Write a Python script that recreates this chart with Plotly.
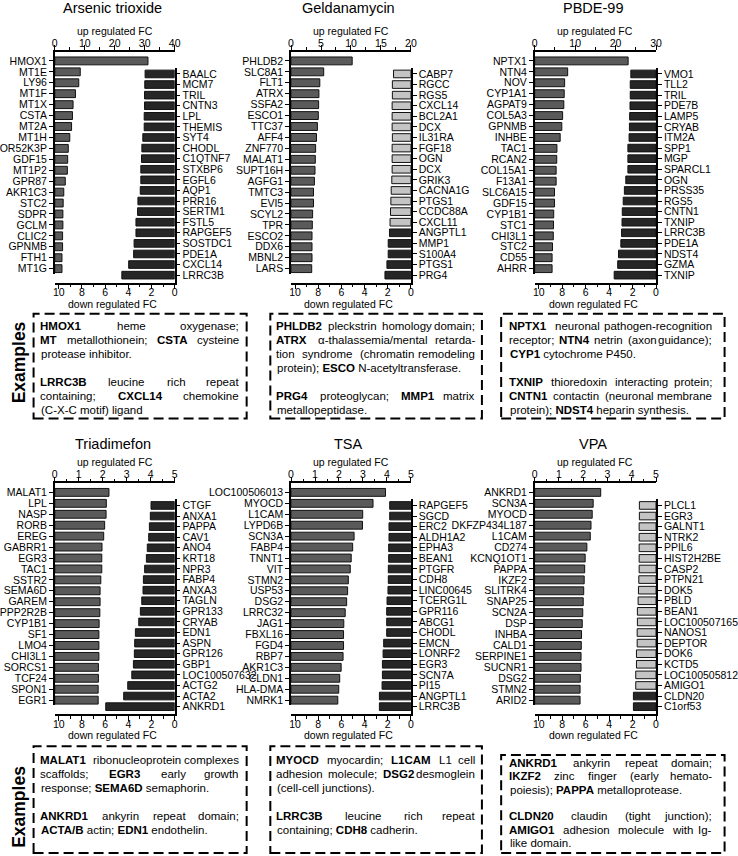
import plotly.graph_objects as go

# ---------------- data ----------------
titles = ["Arsenic trioxide", "Geldanamycin", "PBDE-99", "Triadimefon", "TSA", "VPA"]

arsenic_up_genes = ["HMOX1", "MT1E", "LY96", "MT1F", "MT1X", "CSTA", "MT2A", "MT1H", "OR52K3P", "GDF15",
                    "MT1P2", "GPR87", "AKR1C3", "STC2", "SDPR", "GCLM", "CLIC2", "GPNMB", "FTH1", "MT1G"]
arsenic_up_fc = [31.1, 8.5, 8.0, 6.9, 6.1, 5.9, 5.6, 5.0, 4.5, 4.3, 4.2, 3.5, 3.0, 2.8, 2.7, 2.7, 2.6, 2.6, 2.4, 2.4]
arsenic_down_genes = ["BAALC", "MCM7", "TRIL", "CNTN3", "LPL", "THEMIS", "SYT4", "CHODL", "C1QTNF7", "STXBP6",
                      "EGFL6", "AQP1", "PRR16", "SERTM1", "FSTL5", "RAPGEF5", "SOSTDC1", "PDE1A", "CXCL14", "LRRC3B"]
arsenic_down_fc = [2.55, 2.58, 2.6, 2.6, 2.63, 2.63, 2.75, 2.83, 2.86, 2.92, 2.92, 2.97, 3.17, 3.2, 3.34, 3.34,
                   3.5, 3.54, 3.97, 4.56]

geld_up_genes = ["PHLDB2", "SLC8A1", "FLT1", "ATRX", "SSFA2", "ESCO1", "TTC37", "AFF4", "ZNF770", "MALAT1",
                 "SUPT16H", "AGFG1", "TMTC3", "EVI5", "SCYL2", "TPR", "ESCO2", "DDX6", "MBNL2", "LARS"]
geld_up_fc = [10.2, 5.45, 4.8, 4.65, 4.6, 4.55, 4.4, 4.25, 4.1, 4.05, 4.0, 3.9, 3.75, 3.75, 3.6, 3.55, 3.5, 3.5,
              3.5, 3.45]
geld_down_genes = ["CABP7", "RGCC", "RGS5", "CXCL14", "BCL2A1", "DCX", "IL31RA", "FGF18", "OGN", "DCX",
                   "GRIK3", "CACNA1G", "PTGS1", "CCDC88A", "CXCL11", "ANGPTL1", "MMP1", "S100A4", "PTGS1", "PRG4"]
geld_down_fc = [1.5, 1.6, 1.6, 1.62, 1.62, 1.62, 1.6, 1.62, 1.62, 1.62, 1.65, 1.7, 1.73, 1.76, 1.8, 1.85, 1.96,
                1.96, 2.07, 2.24]

pbde_up_genes = ["NPTX1", "NTN4", "NOV", "CYP1A1", "AGPAT9", "COL5A3", "GPNMB", "INHBE", "TAC1", "RCAN2",
                 "COL15A1", "F13A1", "SLC6A15", "GDF15", "CYP1B1", "STC1", "CHI3L1", "STC2", "CD55", "AHRR"]
pbde_up_fc = [23.1, 8.15, 7.4, 7.3, 7.2, 6.9, 6.7, 6.3, 5.5, 5.45, 5.3, 5.3, 4.9, 4.9, 4.7, 4.65, 4.6, 4.4, 4.3, 4.3]
pbde_down_genes = ["VMO1", "TLL2", "TRIL", "PDE7B", "LAMP5", "CRYAB", "ITM2A", "SPP1", "MGP", "SPARCL1",
                   "OGN", "PRSS35", "RGS5", "CNTN1", "TXNIP", "LRRC3B", "PDE1A", "NDST4", "GZMA", "TXNIP"]
pbde_down_fc = [2.15, 2.2, 2.2, 2.22, 2.25, 2.27, 2.3, 2.4, 2.4, 2.4, 2.58, 2.7, 2.8, 2.88, 2.9, 2.94, 3.0, 3.2,
                3.27, 3.57]

triad_up_genes = ["MALAT1", "LPL", "NASP", "RORB", "EREG", "GABRR1", "EGR3", "TAC1", "SSTR2", "SEMA6D",
                  "GAREM", "PPP2R2B", "CYP1B1", "SF1", "LMO4", "CHI3L1", "SORCS1", "TCF24", "SPON1", "EGR1"]
triad_up_fc = [2.26, 2.15, 2.14, 2.08, 2.04, 1.97, 1.96, 1.96, 1.92, 1.89, 1.89, 1.88, 1.85, 1.84, 1.84, 1.84,
               1.82, 1.82, 1.81, 1.81]
triad_down_genes = ["CTGF", "ANXA1", "PAPPA", "CAV1", "ANO4", "KRT18", "NPR3", "FABP4", "ANXA3", "TAGLN",
                    "GPR133", "CRYAB", "EDN1", "ASPN", "GPR126", "GBP1", "LOC100507632", "ACTG2", "ACTA2", "ANKRD1"]
triad_down_fc = [2.04, 2.1, 2.18, 2.24, 2.36, 2.44, 2.59, 2.7, 2.73, 2.84, 2.96, 3.1, 3.39, 3.45, 3.48, 3.56,
                 3.7, 4.05, 4.4, 5.95]

tsa_up_genes = ["LOC100506013", "MYOCD", "L1CAM", "LYPD6B", "SCN3A", "FABP4", "TNNT1", "VIT", "STMN2", "USP53",
                "DSG2", "LRRC32", "JAG1", "FBXL16", "FGD4", "RBP7", "AKR1C3", "CLDN1", "HLA-DMA", "NMRK1"]
tsa_up_fc = [3.94, 3.42, 2.99, 2.98, 2.63, 2.57, 2.51, 2.47, 2.39, 2.36, 2.32, 2.26, 2.2, 2.19, 2.19, 2.17, 2.09,
             2.03, 1.99, 1.95]
tsa_down_genes = ["RAPGEF5", "SGCD", "ERC2", "ALDH1A2", "EPHA3", "BEAN1", "PTGFR", "CDH8", "LINC00645", "TCERG1L",
                  "GPR116", "ABCG1", "CHODL", "EMCN", "LONRF2", "EGR3", "SCN7A", "PI15", "ANGPTL1", "LRRC3B"]
tsa_down_fc = [1.83, 1.83, 1.89, 1.89, 1.92, 1.92, 1.95, 1.95, 1.98, 2.06, 2.09, 2.09, 2.09, 2.35, 2.4, 2.46,
               2.46, 2.49, 2.72, 2.72]

vpa_up_genes = ["ANKRD1", "SCN3A", "MYOCD", "DKFZP434L187", "L1CAM", "CD274", "KCNQ1OT1", "PAPPA", "IKZF2",
                "SLITRK4", "SNAP25", "SCN2A", "DSP", "INHBA", "CALD1", "SERPINE1", "SUCNR1", "DSG2", "STMN2", "ARID2"]
vpa_up_fc = [2.72, 2.41, 2.37, 2.32, 2.29, 2.15, 2.08, 2.06, 2.04, 2.02, 2.0, 1.98, 1.96, 1.93, 1.92, 1.91, 1.91,
             1.88, 1.87, 1.87]
vpa_down_genes = ["PLCL1", "EGR3", "GALNT1", "NTRK2", "PPIL6", "HIST2H2BE", "CASP2", "PTPN21", "DOK5", "PBLD",
                  "BEAN1", "LOC100507165", "NANOS1", "DEPTOR", "DOK6", "KCTD5", "LOC100505812", "AMIGO1",
                  "CLDN20", "C1orf53"]
vpa_down_fc = [1.42, 1.42, 1.44, 1.44, 1.44, 1.44, 1.44, 1.47, 1.5, 1.53, 1.59, 1.59, 1.61, 1.61, 1.67, 1.67,
               1.73, 1.73, 1.93, 1.93]

up_axis_max = [40, 20, 30, 5, 5, 5]
up_axis_dtick = [10, 5, 10, 1, 1, 1]
down_axis_ticks = [10, 8, 6, 4, 2, 0]

examples = [
    ["<b>HMOX1</b> heme oxygenase;", "<b>MT</b> metallothionein; <b>CSTA</b> cysteine", "protease inhibitor.", "",
     "<b>LRRC3B</b> leucine rich repeat", "containing; <b>CXCL14</b> chemokine", "(C-X-C motif) ligand"],
    ["<b>PHLDB2</b> pleckstrin homology domain;", "<b>ATRX</b> α-thalassemia/mental retarda-",
     "tion syndrome (chromatin remodeling", "protein); <b>ESCO</b> N-acetyltransferase.", "",
     "<b>PRG4</b> proteoglycan; <b>MMP1</b> matrix", "metallopeptidase."],
    ["<b>NPTX1</b> neuronal pathogen-recognition", "receptor; <b>NTN4</b> netrin (axon guidance);",
     "<b>CYP1</b> cytochrome P450.", "", "<b>TXNIP</b> thioredoxin interacting protein;",
     "<b>CNTN1</b> contactin (neuronal membrane", "protein); <b>NDST4</b> heparin synthesis."],
    ["<b>MALAT1</b> ribonucleoprotein complexes", "scaffolds; <b>EGR3</b> early growth",
     "response; <b>SEMA6D</b> semaphorin.", "", "<b>ANKRD1</b> ankyrin repeat domain;",
     "<b>ACTA/B</b> actin; <b>EDN1</b> endothelin."],
    ["<b>MYOCD</b> myocardin; <b>L1CAM</b> L1 cell", "adhesion molecule; <b>DSG2</b> desmoglein",
     "(cell-cell junctions).", "", "<b>LRRC3B</b> leucine rich repeat", "containing; <b>CDH8</b> cadherin."],
    ["<b>ANKRD1</b> ankyrin repeat domain;", "<b>IKZF2</b> zinc finger (early hemato-",
     "poiesis); <b>PAPPA</b> metalloprotease.", "", "<b>CLDN20</b> claudin (tight junction);",
     "<b>AMIGO1</b> adhesion molecule with Ig-", "like domain."],
]
examples_label = "Examples"
up_axis_title = "up regulated FC"
down_axis_title = "down regulated FC"

panels = [
    (arsenic_up_genes, arsenic_up_fc, arsenic_down_genes, arsenic_down_fc),
    (geld_up_genes, geld_up_fc, geld_down_genes, geld_down_fc),
    (pbde_up_genes, pbde_up_fc, pbde_down_genes, pbde_down_fc),
    (triad_up_genes, triad_up_fc, triad_down_genes, triad_down_fc),
    (tsa_up_genes, tsa_up_fc, tsa_down_genes, tsa_down_fc),
    (vpa_up_genes, vpa_up_fc, vpa_down_genes, vpa_down_fc),
]

# ---------------- styling / geometry ----------------
W, H = 738, 856
FONT = "Liberation Sans, Arial, Helvetica, sans-serif"
UP_COLOR = "#5a5a5a"
DOWN_COLOR = "#262626"
LIGHT_COLOR = "#c4c4c4"
light_down_rows = {1: 15, 5: 18}   # panel index -> number of light-grey down bars

COLS = [(52.5, 174.0), (292.0, 413.5), (539.0, 662.0)]
ROW_TOP = [52, 484]
TITLE_Y = [8, 445]
BOX_COLS = [(31, 247), (271, 485.5), (505, 731.5)]
TEXT_COLS = [(36, 240), (276, 480), (512, 720)]
BOX_Y = {0: (314, 419), 1: (314, 419), 2: (314, 419), 3: (747, 854), 4: (747, 854), 5: (756, 854)}
TEXT_Y = {0: (326, 14), 1: (326, 14), 2: (326, 14), 3: (761, 14), 4: (761, 14), 5: (764, 13.3)}
EX_Y = [363, 808]
TXT_SIZE = 11.5


def fx(p):
    return p / W


def fy(p):
    return 1 - p / H


def axkey(pre, n):
    return f"{pre}axis" if n == 1 else f"{pre}axis{n}"


def axref(pre, n):
    return pre if n == 1 else f"{pre}{n}"


REG = {' ': 278, '!': 278, '(': 333, ')': 333, ',': 278, '-': 333, '.': 278, '/': 278, ':': 278, ';': 278,
       'A': 667, 'B': 667, 'C': 722, 'D': 722, 'E': 667, 'F': 611, 'G': 778, 'H': 722, 'I': 278, 'J': 500,
       'K': 667, 'L': 556, 'M': 833, 'N': 722, 'O': 778, 'P': 667, 'Q': 778, 'R': 722, 'S': 667, 'T': 611,
       'U': 722, 'V': 667, 'W': 944, 'X': 667, 'Y': 667, 'Z': 611,
       'a': 556, 'b': 556, 'c': 500, 'd': 556, 'e': 556, 'f': 278, 'g': 556, 'h': 556, 'i': 222, 'j': 222,
       'k': 500, 'l': 222, 'm': 833, 'n': 556, 'o': 556, 'p': 556, 'q': 556, 'r': 333, 's': 500, 't': 278,
       'u': 556, 'v': 500, 'w': 722, 'x': 500, 'y': 500, 'z': 500, 'α': 578}
BOLD = {' ': 278, '/': 278, 'A': 722, 'B': 722, 'C': 722, 'D': 722, 'E': 667, 'F': 611, 'G': 778, 'H': 722,
        'I': 278, 'J': 556, 'K': 722, 'L': 611, 'M': 833, 'N': 722, 'O': 778, 'P': 667, 'Q': 778, 'R': 722,
        'S': 667, 'T': 611, 'U': 722, 'V': 667, 'W': 944, 'X': 667, 'Y': 667, 'Z': 611}


def wwidth(word, bold, size):
    tab = BOLD if bold else REG
    return sum(tab.get(ch, 556) for ch in word) * size / 1000.0


fig = go.Figure()
layout = {}
annotations = []
shapes = []

for k, (ug, uv, dg, dv) in enumerate(panels):
    r, c = divmod(k, 3)
    x0, x1 = COLS[c]
    y0 = ROW_TOP[r]
    nu, nd = 2 * k + 1, 2 * k + 2
    n_up, n_dn = len(ug), len(dg)

    fig.add_trace(go.Bar(
        x=uv, y=list(range(n_up)), orientation="h", width=0.72,
        marker=dict(color=UP_COLOR, line=dict(color="#111", width=1)),
        xaxis=axref("x", nu), yaxis=axref("y", nu), showlegend=False, hoverinfo="x+text", text=ug,
        textposition="none"))
    nlight = light_down_rows.get(k, 0)
    dcols = [LIGHT_COLOR if i < nlight else DOWN_COLOR for i in range(n_dn)]
    fig.add_trace(go.Bar(
        x=dv, y=list(range(n_dn)), orientation="h", width=0.72,
        marker=dict(color=dcols, line=dict(color="#111", width=1)),
        xaxis=axref("x", nd), yaxis=axref("y", nd), showlegend=False, hoverinfo="x+text", text=dg,
        textposition="none"))

    tickfont = dict(family=FONT, size=10.5, color="black")
    common = dict(showgrid=False, zeroline=False, showline=True, linecolor="black", linewidth=1.5,
                  ticks="outside", tickcolor="black", tickwidth=1.3, tickfont=tickfont, fixedrange=True)
    layout[axkey("x", nu)] = dict(
        common, domain=[fx(x0), fx(x1)], anchor=axref("y", nu), side="top",
        range=[0, up_axis_max[k]], tickmode="linear", tick0=0, dtick=up_axis_dtick[k], ticklen=5,
        ticklabelstandoff=-6,
        minor=dict(ticks="outside", dtick=up_axis_dtick[k] / 2, ticklen=3, tickcolor="black", tickwidth=1.2))
    layout[axkey("y", nu)] = dict(
        common, domain=[fy(y0 + 222), fy(y0)], anchor=axref("x", nu), side="left",
        range=[n_up - 1 + 0.46, -0.82], tickmode="array", tickvals=list(range(n_up)), ticktext=ug, ticklen=4,
        tickfont=dict(family=FONT, size=10.5, color="black"))
    layout[axkey("x", nd)] = dict(
        common, domain=[fx(x0), fx(x1)], anchor=axref("y", nd), side="bottom",
        range=[10.35, 0], tickmode="array", tickvals=down_axis_ticks, ticklen=5,
        ticklabelstandoff=-6,
        minor=dict(ticks="outside", dtick=1, tick0=0, ticklen=3, tickcolor="black", tickwidth=1.2))
    layout[axkey("y", nd)] = dict(
        common, domain=[fy(y0 + 231), fy(y0 + 16)], anchor=axref("x", nd), side="right",
        range=[n_dn - 1 + 0.71, -0.57], tickmode="array", tickvals=list(range(n_dn)), ticktext=dg, ticklen=4,
        tickfont=dict(family=FONT, size=10.5, color="black"))

    cx = (x0 + x1) / 2
    annotations.append(dict(text=titles[k], x=fx(cx - 2), y=fy(TITLE_Y[r]), xref="paper", yref="paper",
                            showarrow=False, font=dict(family=FONT, size=14.5, color="black"),
                            xanchor="center", yanchor="middle"))
    annotations.append(dict(text=up_axis_title, x=fx(cx), y=fy(y0 - 21), xref="paper", yref="paper",
                            showarrow=False, font=dict(family=FONT, size=10.5, color="black"),
                            xanchor="center", yanchor="middle"))
    annotations.append(dict(text=down_axis_title, x=fx(cx - 2), y=fy(y0 + 252), xref="paper", yref="paper",
                            showarrow=False, font=dict(family=FONT, size=10.5, color="black"),
                            xanchor="center", yanchor="middle"))

    # dashed box
    bx0, bx1 = BOX_COLS[c]
    by0, by1 = BOX_Y[k]
    shapes.append(dict(type="rect", xref="paper", yref="paper", x0=fx(bx0), x1=fx(bx1), y0=fy(by1), y1=fy(by0),
                       line=dict(color="black", width=2, dash="10px,5px")))

    # justified text
    tl, tr = TEXT_COLS[c]
    ty, pitch = TEXT_Y[k]
    lines = examples[k]
    for i, line in enumerate(lines):
        if not line:
            continue
        yy = fy(ty + i * pitch)
        is_last = (i == len(lines) - 1) or (lines[i + 1] == "")
        if is_last:
            annotations.append(dict(text=line, x=fx(tl), y=yy, xref="paper", yref="paper", showarrow=False,
                                    xanchor="left", yanchor="middle",
                                    font=dict(family=FONT, size=TXT_SIZE, color="black")))
            continue
        words = []
        for tok in line.split(" "):
            if tok.startswith("<b>"):
                words.append((tok[3:-4], True))
            else:
                words.append((tok, False))
        widths = [wwidth(w, b, TXT_SIZE) for w, b in words]
        gap = (tr - tl - sum(widths)) / max(1, len(words) - 1)
        xpos = tl
        for j, ((w, b), wd) in enumerate(zip(words, widths)):
            txt = f"<b>{w}</b>" if b else w
            if j == len(words) - 1 and j > 0:
                annotations.append(dict(text=txt, x=fx(tr), y=yy, xref="paper", yref="paper", showarrow=False,
                                        xanchor="right", yanchor="middle", borderpad=0,
                                        font=dict(family=FONT, size=TXT_SIZE, color="black")))
            else:
                annotations.append(dict(text=txt, x=fx(xpos), y=yy, xref="paper", yref="paper", showarrow=False,
                                        xanchor="left", yanchor="middle", borderpad=0,
                                        font=dict(family=FONT, size=TXT_SIZE, color="black")))
            xpos += wd + gap

for r in range(2):
    annotations.append(dict(text=f"<b>{examples_label}</b>", x=fx(16), y=fy(EX_Y[r]), xref="paper", yref="paper",
                            showarrow=False, textangle=-90, xanchor="center", yanchor="middle",
                            font=dict(family=FONT, size=17.5, color="black")))

fig.update_layout(
    width=W, height=H, margin=dict(l=0, r=0, t=0, b=0),
    paper_bgcolor="white", plot_bgcolor="rgba(0,0,0,0)",
    annotations=annotations, shapes=shapes, bargap=0.3,
    font=dict(family=FONT, color="black"),
    **layout,
)

fig.write_html("out.html", config={"displayModeBar": False},
               post_script="document.body.style.margin='0';document.body.style.padding='0';"
                           "document.documentElement.style.overflow='hidden';")
